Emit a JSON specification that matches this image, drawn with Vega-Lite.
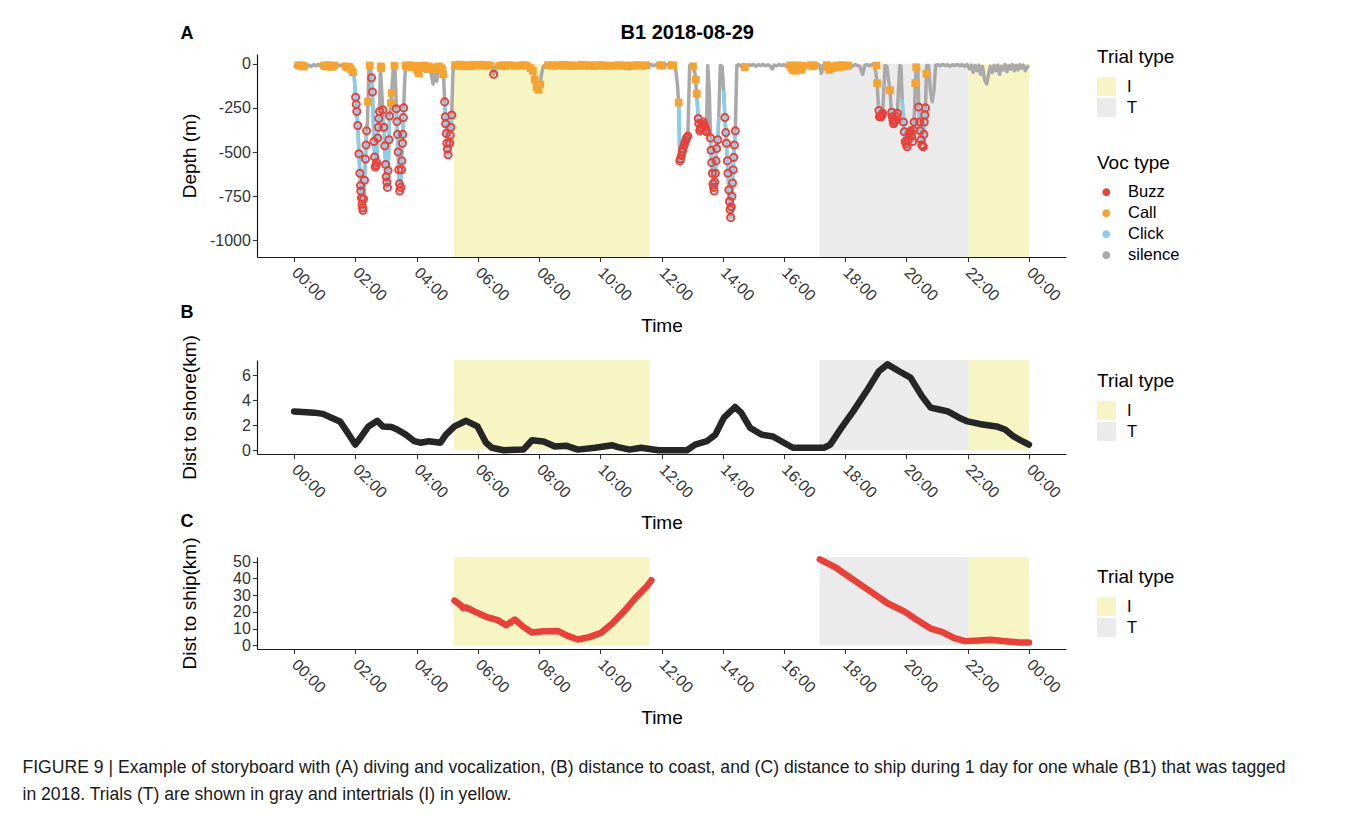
{
"$schema": "https://vega.github.io/schema/vega-lite/v6.json",
"background": "white",
"padding": {"left": 22, "top": 23, "right": 5, "bottom": 5},
"config": {
  "font": "Liberation Sans",
  "view": {"stroke": null},
  "axis": {"grid": false, "domainColor": "#1a1a1a", "domainWidth": 1.2, "tickColor": "#333333", "tickWidth": 1.1, "tickSize": 4.6, "labelFontSize": 16, "labelColor": "#333333", "labelPadding": 2, "titleFontSize": 19, "titleFontWeight": "normal", "titleColor": "#000000", "labelOverlap": false},
  "legend": {"titleFontSize": 19, "titleFontWeight": "normal", "titleColor": "#000000", "labelFontSize": 16.5, "labelColor": "#000000", "padding": 0, "orient": "none"}
},
"datasets": {
  "bands": [{"s": 5.21, "e": 11.61, "trial": "I"}, {"s": 17.16, "e": 22.03, "trial": "T"}, {"s": 22.03, "e": 24.0, "trial": "I"}],
  "prof": [
{"t":0,"d":-5},{"t":0.08,"d":-18},{"t":0.16,"d":-6},{"t":0.24,"d":-14},{"t":0.32,"d":-4},{"t":0.4,"d":-20},{"t":0.48,"d":-8},{"t":0.56,"d":-16},{"t":0.64,"d":-5},{"t":0.72,"d":-12},{"t":0.8,"d":-3},{"t":0.88,"d":-14},{"t":0.96,"d":-6},{"t":1.04,"d":-18},{"t":1.12,"d":-5},{"t":1.2,"d":-10},{"t":1.28,"d":-4},{"t":1.36,"d":-15},{"t":1.44,"d":-6},{"t":1.52,"d":-12},{"t":1.6,"d":-4},{"t":1.68,"d":-20},{"t":1.76,"d":-8},{"t":1.84,"d":-25},{"t":1.9,"d":-40},
{"t":1.96,"d":-60,"c":1},{"t":2.01,"d":-190,"c":1},{"t":2.05,"d":-270,"c":1},{"t":2.08,"d":-350,"c":1},{"t":2.13,"d":-550,"c":1},{"t":2.17,"d":-690,"c":1},{"t":2.21,"d":-780,"c":1},{"t":2.25,"d":-830,"c":1},{"t":2.29,"d":-700,"c":1},{"t":2.33,"d":-540,"c":1},{"t":2.37,"d":-380,"c":1},{"t":2.4,"d":-320},{"t":2.43,"d":-120},{"t":2.45,"d":-10},
{"t":2.48,"d":-8},{"t":2.52,"d":-60,"c":2},{"t":2.54,"d":-100,"c":2},{"t":2.56,"d":-160,"c":2},{"t":2.61,"d":-440,"c":2},{"t":2.63,"d":-530,"c":2},{"t":2.66,"d":-590,"c":2},{"t":2.7,"d":-560,"c":2},{"t":2.73,"d":-420,"c":2},{"t":2.76,"d":-330,"c":2},{"t":2.79,"d":-270,"c":2},{"t":2.82,"d":-15},
{"t":2.86,"d":-150},{"t":2.9,"d":-262,"c":3},{"t":2.93,"d":-360,"c":3},{"t":2.97,"d":-500,"c":3},{"t":3.01,"d":-640,"c":3},{"t":3.05,"d":-700,"c":3},{"t":3.08,"d":-560,"c":3},{"t":3.12,"d":-296,"c":3},{"t":3.18,"d":-180},{"t":3.25,"d":-10},
{"t":3.29,"d":-12},{"t":3.32,"d":-150},{"t":3.34,"d":-255,"c":4},{"t":3.38,"d":-400,"c":4},{"t":3.42,"d":-600,"c":4},{"t":3.45,"d":-720,"c":4},{"t":3.49,"d":-700,"c":4},{"t":3.52,"d":-550,"c":4},{"t":3.55,"d":-400,"c":4},{"t":3.58,"d":-250,"c":4},{"t":3.61,"d":-120},{"t":3.64,"d":-8},
{"t":3.7,"d":-20},{"t":3.76,"d":-5},{"t":3.82,"d":-25},{"t":3.88,"d":-8},{"t":3.94,"d":-40},{"t":4.0,"d":-10},{"t":4.06,"d":-30},{"t":4.12,"d":-5},{"t":4.18,"d":-20},{"t":4.24,"d":-8},{"t":4.3,"d":-45},{"t":4.36,"d":-15},{"t":4.42,"d":-10},{"t":4.48,"d":-60},{"t":4.54,"d":-115},{"t":4.58,"d":-60},{"t":4.62,"d":-20},{"t":4.66,"d":-100},{"t":4.7,"d":-30},{"t":4.76,"d":-10},{"t":4.82,"d":-20},
{"t":4.86,"d":-40},{"t":4.89,"d":-100},{"t":4.92,"d":-216,"c":5},{"t":4.95,"d":-340,"c":5},{"t":4.99,"d":-450,"c":5},{"t":5.03,"d":-515,"c":5},{"t":5.08,"d":-450,"c":5},{"t":5.12,"d":-360,"c":5},{"t":5.15,"d":-290,"c":5},{"t":5.17,"d":-150},{"t":5.2,"d":-10},
{"t":5.28,"d":-5},{"t":5.36,"d":-15},{"t":5.44,"d":-4},{"t":5.52,"d":-12},{"t":5.6,"d":-6},{"t":5.68,"d":-18},{"t":5.76,"d":-5},{"t":5.84,"d":-10},{"t":5.92,"d":-4},{"t":6.0,"d":-14},{"t":6.08,"d":-6},{"t":6.16,"d":-10},{"t":6.24,"d":-3},{"t":6.32,"d":-12},{"t":6.4,"d":-5},{"t":6.46,"d":-20},{"t":6.52,"d":-60},{"t":6.58,"d":-15},{"t":6.66,"d":-5},{"t":6.74,"d":-12},{"t":6.82,"d":-4},{"t":6.9,"d":-10},{"t":6.98,"d":-5},{"t":7.06,"d":-15},{"t":7.14,"d":-6},{"t":7.22,"d":-12},{"t":7.3,"d":-4},{"t":7.38,"d":-20},{"t":7.46,"d":-6},{"t":7.54,"d":-12},{"t":7.62,"d":-8},{"t":7.7,"d":-25},{"t":7.78,"d":-35},{"t":7.84,"d":-60},{"t":7.9,"d":-130},{"t":7.96,"d":-150},{"t":8.02,"d":-140},{"t":8.08,"d":-60},{"t":8.14,"d":-15},{"t":8.22,"d":-5},{"t":8.3,"d":-12},{"t":8.38,"d":-4},{"t":8.46,"d":-10},{"t":8.54,"d":-6},{"t":8.62,"d":-15},{"t":8.7,"d":-5},{"t":8.78,"d":-12},{"t":8.86,"d":-4},{"t":8.94,"d":-10},{"t":9.02,"d":-5},{"t":9.1,"d":-14},{"t":9.18,"d":-6},{"t":9.26,"d":-10},{"t":9.34,"d":-4},{"t":9.42,"d":-12},{"t":9.5,"d":-5},{"t":9.58,"d":-15},{"t":9.66,"d":-6},{"t":9.74,"d":-10},{"t":9.82,"d":-4},{"t":9.9,"d":-12},{"t":9.98,"d":-5},{"t":10.06,"d":-14},{"t":10.14,"d":-6},{"t":10.22,"d":-10},{"t":10.3,"d":-4},{"t":10.38,"d":-12},{"t":10.46,"d":-5},{"t":10.54,"d":-15},{"t":10.62,"d":-6},{"t":10.7,"d":-10},{"t":10.78,"d":-4},{"t":10.86,"d":-12},{"t":10.94,"d":-30},{"t":11.02,"d":-8},{"t":11.1,"d":-12},{"t":11.18,"d":-4},{"t":11.26,"d":-10},{"t":11.34,"d":-5},{"t":11.42,"d":-14},{"t":11.5,"d":-6},{"t":11.58,"d":-10},{"t":11.66,"d":-4},{"t":11.74,"d":-12},{"t":11.82,"d":-5},{"t":11.9,"d":-15},{"t":11.98,"d":-6},{"t":12.06,"d":-10},{"t":12.14,"d":-4},{"t":12.22,"d":-12},{"t":12.3,"d":-5},{"t":12.38,"d":-10},{"t":12.45,"d":-10},
{"t":12.52,"d":-120},{"t":12.56,"d":-220,"c":6},{"t":12.6,"d":-550,"c":6},{"t":12.65,"d":-520,"c":6},{"t":12.7,"d":-480,"c":6},{"t":12.76,"d":-450,"c":6},{"t":12.82,"d":-420,"c":6},{"t":12.86,"d":-410,"c":6},{"t":12.92,"d":-10},
{"t":12.97,"d":-5},{"t":13.03,"d":-15},{"t":13.1,"d":-60},{"t":13.16,"d":-200,"c":7},{"t":13.2,"d":-310,"c":7},{"t":13.25,"d":-380,"c":7},{"t":13.3,"d":-360,"c":7},{"t":13.36,"d":-330,"c":7},{"t":13.42,"d":-360,"c":7},{"t":13.47,"d":-385,"c":7},{"t":13.51,"d":-10},
{"t":13.56,"d":-150},{"t":13.6,"d":-420,"c":8},{"t":13.64,"d":-560,"c":8},{"t":13.68,"d":-680,"c":8},{"t":13.72,"d":-720,"c":8},{"t":13.76,"d":-620,"c":8},{"t":13.8,"d":-480,"c":8},{"t":13.84,"d":-430,"c":8},{"t":13.87,"d":-300,"c":8},{"t":13.92,"d":-10},
{"t":13.98,"d":-15},{"t":14.03,"d":-150,"c":9},{"t":14.07,"d":-305,"c":9},{"t":14.12,"d":-450,"c":9},{"t":14.17,"d":-620,"c":9},{"t":14.22,"d":-780,"c":9},{"t":14.26,"d":-870,"c":9},{"t":14.3,"d":-750,"c":9},{"t":14.34,"d":-600,"c":9},{"t":14.38,"d":-460,"c":9},{"t":14.41,"d":-380,"c":9},{"t":14.46,"d":-10},
{"t":14.52,"d":-5},{"t":14.6,"d":-15},{"t":14.68,"d":-4},{"t":14.76,"d":-12},{"t":14.84,"d":-6},{"t":14.92,"d":-10},{"t":15.0,"d":-4},{"t":15.08,"d":-14},{"t":15.16,"d":-5},{"t":15.24,"d":-10},{"t":15.32,"d":-4},{"t":15.4,"d":-12},{"t":15.48,"d":-6},{"t":15.56,"d":-15},{"t":15.62,"d":-30},{"t":15.68,"d":-8},{"t":15.76,"d":-12},{"t":15.84,"d":-4},{"t":15.92,"d":-10},{"t":16.0,"d":-5},{"t":16.08,"d":-14},{"t":16.16,"d":-6},{"t":16.24,"d":-10},{"t":16.32,"d":-4},{"t":16.4,"d":-12},{"t":16.48,"d":-5},{"t":16.56,"d":-15},{"t":16.64,"d":-6},{"t":16.72,"d":-10},{"t":16.8,"d":-4},{"t":16.88,"d":-12},{"t":16.96,"d":-6},{"t":17.04,"d":-15},{"t":17.12,"d":-5},{"t":17.18,"d":-10},{"t":17.22,"d":-55},{"t":17.28,"d":-10},{"t":17.36,"d":-4},{"t":17.44,"d":-12},{"t":17.52,"d":-5},{"t":17.6,"d":-14},{"t":17.68,"d":-6},{"t":17.76,"d":-10},{"t":17.84,"d":-4},{"t":17.92,"d":-12},{"t":18.0,"d":-5},{"t":18.08,"d":-10},{"t":18.16,"d":-6},{"t":18.24,"d":-14},{"t":18.32,"d":-5},{"t":18.4,"d":-10},{"t":18.48,"d":-15},{"t":18.57,"d":-60},{"t":18.64,"d":-10},{"t":18.72,"d":-5},{"t":18.8,"d":-12},{"t":18.88,"d":-4},{"t":18.95,"d":-8},
{"t":19.0,"d":-50},{"t":19.04,"d":-110},{"t":19.08,"d":-230,"c":10},{"t":19.12,"d":-300,"c":10},{"t":19.17,"d":-300,"c":10},{"t":19.22,"d":-280,"c":10},{"t":19.26,"d":-150},{"t":19.3,"d":-10},
{"t":19.36,"d":-15},{"t":19.42,"d":-100},{"t":19.46,"d":-150},{"t":19.5,"d":-250,"c":11},{"t":19.54,"d":-300,"c":11},{"t":19.58,"d":-340,"c":11},{"t":19.64,"d":-320,"c":11},{"t":19.7,"d":-280,"c":11},{"t":19.74,"d":-150},{"t":19.78,"d":-10},
{"t":19.82,"d":-15},{"t":19.86,"d":-200,"c":12},{"t":19.9,"d":-330,"c":12},{"t":19.96,"d":-440,"c":12},{"t":20.02,"d":-470,"c":12},{"t":20.08,"d":-400,"c":12},{"t":20.14,"d":-380,"c":12},{"t":20.2,"d":-440,"c":12},{"t":20.25,"d":-330,"c":12},{"t":20.29,"d":-110},{"t":20.33,"d":-10},
{"t":20.37,"d":-15},{"t":20.4,"d":-245,"c":13},{"t":20.45,"d":-380,"c":13},{"t":20.5,"d":-460,"c":13},{"t":20.55,"d":-470,"c":13},{"t":20.58,"d":-330,"c":13},{"t":20.62,"d":-250,"c":13},{"t":20.66,"d":-10},
{"t":20.72,"d":-10},{"t":20.78,"d":-150},{"t":20.84,"d":-215},{"t":20.9,"d":-150},{"t":20.95,"d":-10},
{"t":21.02,"d":-5},{"t":21.1,"d":-12},{"t":21.18,"d":-4},{"t":21.26,"d":-10},{"t":21.34,"d":-5},{"t":21.42,"d":-14},{"t":21.5,"d":-6},{"t":21.58,"d":-10},{"t":21.66,"d":-4},{"t":21.74,"d":-12},{"t":21.82,"d":-5},{"t":21.9,"d":-15},{"t":21.98,"d":-4},{"t":22.06,"d":-30},{"t":22.12,"d":-8},{"t":22.18,"d":-50},{"t":22.24,"d":-10},{"t":22.3,"d":-40},{"t":22.36,"d":-8},{"t":22.42,"d":-60},{"t":22.48,"d":-15},{"t":22.55,"d":-90},{"t":22.62,"d":-115},{"t":22.68,"d":-60},{"t":22.74,"d":-15},{"t":22.8,"d":-50},{"t":22.86,"d":-10},{"t":22.92,"d":-40},{"t":22.98,"d":-8},{"t":23.04,"d":-60},{"t":23.1,"d":-15},{"t":23.16,"d":-35},{"t":23.22,"d":-5},{"t":23.28,"d":-45},{"t":23.34,"d":-10},{"t":23.4,"d":-30},{"t":23.46,"d":-5},{"t":23.52,"d":-40},{"t":23.58,"d":-10},{"t":23.64,"d":-35},{"t":23.7,"d":-5},{"t":23.76,"d":-25},{"t":23.82,"d":-8},{"t":23.88,"d":-40},{"t":23.94,"d":-20},{"t":24.0,"d":-10}
  ],
  "voc": [
{"t":0.14,"d":-8,"v":"Call"},{"t":0.2,"d":-12,"v":"Call"},{"t":0.28,"d":-10,"v":"Call"},{"t":0.32,"d":-16,"v":"Call"},{"t":0.98,"d":-10,"v":"Call"},{"t":1.04,"d":-16,"v":"Call"},{"t":1.1,"d":-8,"v":"Call"},{"t":1.18,"d":-12,"v":"Call"},{"t":1.24,"d":-18,"v":"Call"},{"t":1.32,"d":-10,"v":"Call"},{"t":1.68,"d":-15,"v":"Call"},{"t":1.74,"d":-22,"v":"Call"},{"t":1.8,"d":-18,"v":"Call"},{"t":1.86,"d":-32,"v":"Call"},{"t":1.92,"d":-48,"v":"Call"},{"t":2.415,"d":-215,"v":"Call"},{"t":2.47,"d":-10,"v":"Call"},{"t":2.83,"d":-15,"v":"Call"},{"t":2.85,"d":-25,"v":"Call"},{"t":3.16,"d":-222,"v":"Call"},{"t":3.19,"d":-165,"v":"Call"},{"t":3.28,"d":-12,"v":"Call"},{"t":3.64,"d":-10,"v":"Call"},{"t":3.68,"d":-15,"v":"Call"},{"t":3.72,"d":-12,"v":"Call"},{"t":3.78,"d":-8,"v":"Call"},{"t":3.84,"d":-20,"v":"Call"},{"t":3.98,"d":-12,"v":"Call"},{"t":4.02,"d":-30,"v":"Call"},{"t":4.05,"d":-45,"v":"Call"},{"t":4.08,"d":-55,"v":"Call"},{"t":4.12,"d":-20,"v":"Call"},{"t":4.2,"d":-15,"v":"Call"},{"t":4.26,"d":-10,"v":"Call"},{"t":4.34,"d":-25,"v":"Call"},{"t":4.4,"d":-15,"v":"Call"},{"t":4.46,"d":-30,"v":"Call"},{"t":4.62,"d":-20,"v":"Call"},{"t":4.7,"d":-30,"v":"Call"},{"t":4.74,"d":-15,"v":"Call"},{"t":4.8,"d":-25,"v":"Call"},{"t":4.84,"d":-35,"v":"Call"},{"t":4.87,"d":-60,"v":"Call"},{"t":5.26,"d":-8,"v":"Call"},{"t":5.34,"d":-12,"v":"Call"},{"t":5.4,"d":-5,"v":"Call"},{"t":5.46,"d":-10,"v":"Call"},{"t":5.54,"d":-14,"v":"Call"},{"t":5.62,"d":-8,"v":"Call"},{"t":5.7,"d":-12,"v":"Call"},{"t":5.78,"d":-14,"v":"Call"},{"t":5.86,"d":-6,"v":"Call"},{"t":5.94,"d":-12,"v":"Call"},{"t":6.02,"d":-8,"v":"Call"},{"t":6.1,"d":-5,"v":"Call"},{"t":6.2,"d":-12,"v":"Call"},{"t":6.3,"d":-8,"v":"Call"},{"t":6.4,"d":-10,"v":"Call"},{"t":6.7,"d":-12,"v":"Call"},{"t":6.8,"d":-8,"v":"Call"},{"t":6.9,"d":-14,"v":"Call"},{"t":7.0,"d":-8,"v":"Call"},{"t":7.1,"d":-10,"v":"Call"},{"t":7.26,"d":-12,"v":"Call"},{"t":7.4,"d":-10,"v":"Call"},{"t":7.5,"d":-8,"v":"Call"},{"t":7.6,"d":-12,"v":"Call"},{"t":7.72,"d":-25,"v":"Call"},{"t":7.8,"d":-40,"v":"Call"},{"t":7.86,"d":-90,"v":"Call"},{"t":7.92,"d":-132,"v":"Call"},{"t":7.98,"d":-148,"v":"Call"},{"t":8.04,"d":-118,"v":"Call"},{"t":8.3,"d":-8,"v":"Call"},{"t":8.4,"d":-10,"v":"Call"},{"t":8.5,"d":-12,"v":"Call"},{"t":8.6,"d":-8,"v":"Call"},{"t":8.7,"d":-10,"v":"Call"},{"t":8.8,"d":-6,"v":"Call"},{"t":8.9,"d":-12,"v":"Call"},{"t":9.0,"d":-8,"v":"Call"},{"t":9.1,"d":-12,"v":"Call"},{"t":9.2,"d":-10,"v":"Call"},{"t":9.3,"d":-12,"v":"Call"},{"t":9.4,"d":-6,"v":"Call"},{"t":9.5,"d":-10,"v":"Call"},{"t":9.6,"d":-12,"v":"Call"},{"t":9.7,"d":-8,"v":"Call"},{"t":9.8,"d":-14,"v":"Call"},{"t":9.9,"d":-10,"v":"Call"},{"t":10.0,"d":-8,"v":"Call"},{"t":10.1,"d":-12,"v":"Call"},{"t":10.2,"d":-10,"v":"Call"},{"t":10.3,"d":-12,"v":"Call"},{"t":10.5,"d":-10,"v":"Call"},{"t":10.6,"d":-8,"v":"Call"},{"t":10.7,"d":-12,"v":"Call"},{"t":10.8,"d":-10,"v":"Call"},{"t":10.9,"d":-14,"v":"Call"},{"t":11.0,"d":-10,"v":"Call"},{"t":11.1,"d":-12,"v":"Call"},{"t":11.2,"d":-8,"v":"Call"},{"t":11.3,"d":-10,"v":"Call"},{"t":11.4,"d":-12,"v":"Call"},{"t":11.5,"d":-8,"v":"Call"},{"t":11.96,"d":-8,"v":"Call"},{"t":12.02,"d":-10,"v":"Call"},{"t":12.32,"d":-8,"v":"Call"},{"t":12.38,"d":-10,"v":"Call"},{"t":12.56,"d":-220,"v":"Call"},{"t":13.03,"d":-15,"v":"Call"},{"t":13.12,"d":-90,"v":"Call"},{"t":13.15,"d":-170,"v":"Call"},{"t":14.72,"d":-20,"v":"Call"},{"t":16.2,"d":-10,"v":"Call"},{"t":16.24,"d":-22,"v":"Call"},{"t":16.28,"d":-35,"v":"Call"},{"t":16.31,"d":-10,"v":"Call"},{"t":16.34,"d":-25,"v":"Call"},{"t":16.38,"d":-40,"v":"Call"},{"t":16.42,"d":-15,"v":"Call"},{"t":16.46,"d":-30,"v":"Call"},{"t":16.5,"d":-10,"v":"Call"},{"t":16.54,"d":-22,"v":"Call"},{"t":16.58,"d":-35,"v":"Call"},{"t":16.62,"d":-12,"v":"Call"},{"t":16.88,"d":-8,"v":"Call"},{"t":16.94,"d":-15,"v":"Call"},{"t":17.0,"d":-10,"v":"Call"},{"t":17.4,"d":-8,"v":"Call"},{"t":17.44,"d":-20,"v":"Call"},{"t":17.48,"d":-35,"v":"Call"},{"t":17.52,"d":-15,"v":"Call"},{"t":17.56,"d":-25,"v":"Call"},{"t":17.72,"d":-10,"v":"Call"},{"t":17.8,"d":-20,"v":"Call"},{"t":17.88,"d":-8,"v":"Call"},{"t":17.96,"d":-15,"v":"Call"},{"t":18.04,"d":-10,"v":"Call"},{"t":18.1,"d":-12,"v":"Call"},{"t":19.02,"d":-10,"v":"Call"},{"t":19.04,"d":-110,"v":"Call"},{"t":19.46,"d":-150,"v":"Call"},{"t":20.29,"d":-110,"v":"Call"},{"t":20.32,"d":-20,"v":"Call"},{"t":20.65,"d":-57,"v":"Call"},
{"t":2.01,"d":-190,"v":"Buzz"},{"t":2.03,"d":-230,"v":"Buzz"},{"t":2.05,"d":-270,"v":"Buzz"},{"t":2.08,"d":-350,"v":"Buzz"},{"t":2.12,"d":-510,"v":"Buzz"},{"t":2.15,"d":-620,"v":"Buzz"},{"t":2.17,"d":-690,"v":"Buzz"},{"t":2.18,"d":-720,"v":"Buzz"},{"t":2.2,"d":-760,"v":"Buzz"},{"t":2.22,"d":-795,"v":"Buzz"},{"t":2.24,"d":-815,"v":"Buzz"},{"t":2.25,"d":-830,"v":"Buzz"},{"t":2.27,"d":-765,"v":"Buzz"},{"t":2.3,"d":-660,"v":"Buzz"},{"t":2.33,"d":-540,"v":"Buzz"},{"t":2.35,"d":-460,"v":"Buzz"},{"t":2.37,"d":-380,"v":"Buzz"},
{"t":2.53,"d":-80,"v":"Buzz"},{"t":2.56,"d":-160,"v":"Buzz"},{"t":2.61,"d":-440,"v":"Buzz"},{"t":2.63,"d":-528,"v":"Buzz"},{"t":2.65,"d":-585,"v":"Buzz"},{"t":2.68,"d":-575,"v":"Buzz"},{"t":2.7,"d":-560,"v":"Buzz"},{"t":2.73,"d":-420,"v":"Buzz"},{"t":2.75,"d":-360,"v":"Buzz"},{"t":2.77,"d":-310,"v":"Buzz"},{"t":2.79,"d":-270,"v":"Buzz"},
{"t":2.9,"d":-262,"v":"Buzz"},{"t":2.93,"d":-360,"v":"Buzz"},{"t":2.96,"d":-465,"v":"Buzz"},{"t":2.99,"d":-570,"v":"Buzz"},{"t":3.01,"d":-640,"v":"Buzz"},{"t":3.03,"d":-670,"v":"Buzz"},{"t":3.05,"d":-700,"v":"Buzz"},{"t":3.07,"d":-605,"v":"Buzz"},{"t":3.1,"d":-430,"v":"Buzz"},{"t":3.12,"d":-296,"v":"Buzz"},
{"t":3.34,"d":-255,"v":"Buzz"},{"t":3.36,"d":-328,"v":"Buzz"},{"t":3.38,"d":-400,"v":"Buzz"},{"t":3.4,"d":-500,"v":"Buzz"},{"t":3.42,"d":-600,"v":"Buzz"},{"t":3.44,"d":-680,"v":"Buzz"},{"t":3.45,"d":-720,"v":"Buzz"},{"t":3.49,"d":-700,"v":"Buzz"},{"t":3.51,"d":-600,"v":"Buzz"},{"t":3.52,"d":-550,"v":"Buzz"},{"t":3.54,"d":-450,"v":"Buzz"},{"t":3.55,"d":-400,"v":"Buzz"},{"t":3.57,"d":-305,"v":"Buzz"},{"t":3.58,"d":-250,"v":"Buzz"},
{"t":4.92,"d":-216,"v":"Buzz"},{"t":4.94,"d":-300,"v":"Buzz"},{"t":4.95,"d":-340,"v":"Buzz"},{"t":4.97,"d":-395,"v":"Buzz"},{"t":4.99,"d":-450,"v":"Buzz"},{"t":5.01,"d":-483,"v":"Buzz"},{"t":5.03,"d":-515,"v":"Buzz"},{"t":5.08,"d":-450,"v":"Buzz"},{"t":5.1,"d":-405,"v":"Buzz"},{"t":5.12,"d":-360,"v":"Buzz"},{"t":5.15,"d":-290,"v":"Buzz"},
{"t":6.52,"d":-60,"v":"Buzz"},
{"t":12.6,"d":-550,"v":"Buzz"},{"t":12.62,"d":-538,"v":"Buzz"},{"t":12.65,"d":-520,"v":"Buzz"},{"t":12.68,"d":-496,"v":"Buzz"},{"t":12.7,"d":-480,"v":"Buzz"},{"t":12.73,"d":-465,"v":"Buzz"},{"t":12.76,"d":-450,"v":"Buzz"},{"t":12.79,"d":-435,"v":"Buzz"},{"t":12.82,"d":-420,"v":"Buzz"},{"t":12.86,"d":-410,"v":"Buzz"},
{"t":13.2,"d":-310,"v":"Buzz"},{"t":13.22,"d":-338,"v":"Buzz"},{"t":13.25,"d":-380,"v":"Buzz"},{"t":13.28,"d":-368,"v":"Buzz"},{"t":13.3,"d":-360,"v":"Buzz"},{"t":13.33,"d":-345,"v":"Buzz"},{"t":13.36,"d":-330,"v":"Buzz"},{"t":13.39,"d":-345,"v":"Buzz"},{"t":13.42,"d":-360,"v":"Buzz"},{"t":13.45,"d":-375,"v":"Buzz"},{"t":13.47,"d":-385,"v":"Buzz"},
{"t":13.6,"d":-420,"v":"Buzz"},{"t":13.62,"d":-490,"v":"Buzz"},{"t":13.64,"d":-560,"v":"Buzz"},{"t":13.66,"d":-620,"v":"Buzz"},{"t":13.68,"d":-680,"v":"Buzz"},{"t":13.7,"d":-700,"v":"Buzz"},{"t":13.72,"d":-720,"v":"Buzz"},{"t":13.74,"d":-670,"v":"Buzz"},{"t":13.76,"d":-620,"v":"Buzz"},{"t":13.78,"d":-550,"v":"Buzz"},{"t":13.8,"d":-480,"v":"Buzz"},{"t":13.84,"d":-430,"v":"Buzz"},
{"t":14.07,"d":-305,"v":"Buzz"},{"t":14.1,"d":-390,"v":"Buzz"},{"t":14.12,"d":-450,"v":"Buzz"},{"t":14.15,"d":-550,"v":"Buzz"},{"t":14.17,"d":-620,"v":"Buzz"},{"t":14.2,"d":-715,"v":"Buzz"},{"t":14.22,"d":-780,"v":"Buzz"},{"t":14.24,"d":-825,"v":"Buzz"},{"t":14.26,"d":-870,"v":"Buzz"},{"t":14.28,"d":-810,"v":"Buzz"},{"t":14.3,"d":-750,"v":"Buzz"},{"t":14.32,"d":-675,"v":"Buzz"},{"t":14.34,"d":-600,"v":"Buzz"},{"t":14.36,"d":-530,"v":"Buzz"},{"t":14.38,"d":-460,"v":"Buzz"},{"t":14.41,"d":-380,"v":"Buzz"},
{"t":19.1,"d":-265,"v":"Buzz"},{"t":19.12,"d":-300,"v":"Buzz"},{"t":19.15,"d":-300,"v":"Buzz"},{"t":19.17,"d":-300,"v":"Buzz"},{"t":19.2,"d":-290,"v":"Buzz"},{"t":19.22,"d":-280,"v":"Buzz"},
{"t":19.52,"d":-275,"v":"Buzz"},{"t":19.54,"d":-300,"v":"Buzz"},{"t":19.56,"d":-320,"v":"Buzz"},{"t":19.58,"d":-340,"v":"Buzz"},{"t":19.61,"d":-330,"v":"Buzz"},{"t":19.64,"d":-320,"v":"Buzz"},{"t":19.67,"d":-300,"v":"Buzz"},{"t":19.7,"d":-280,"v":"Buzz"},
{"t":19.9,"d":-330,"v":"Buzz"},{"t":19.93,"d":-385,"v":"Buzz"},{"t":19.96,"d":-440,"v":"Buzz"},{"t":19.99,"d":-455,"v":"Buzz"},{"t":20.02,"d":-470,"v":"Buzz"},{"t":20.05,"d":-435,"v":"Buzz"},{"t":20.08,"d":-400,"v":"Buzz"},{"t":20.11,"d":-390,"v":"Buzz"},{"t":20.14,"d":-380,"v":"Buzz"},{"t":20.17,"d":-410,"v":"Buzz"},{"t":20.2,"d":-440,"v":"Buzz"},{"t":20.23,"d":-375,"v":"Buzz"},{"t":20.25,"d":-330,"v":"Buzz"},
{"t":20.4,"d":-245,"v":"Buzz"},{"t":20.43,"d":-330,"v":"Buzz"},{"t":20.45,"d":-380,"v":"Buzz"},{"t":20.48,"d":-430,"v":"Buzz"},{"t":20.5,"d":-460,"v":"Buzz"},{"t":20.53,"d":-465,"v":"Buzz"},{"t":20.55,"d":-470,"v":"Buzz"},{"t":20.57,"d":-400,"v":"Buzz"},{"t":20.58,"d":-330,"v":"Buzz"},{"t":20.6,"d":-290,"v":"Buzz"},{"t":20.62,"d":-250,"v":"Buzz"}
  ],
  "shore": [
{"t":0,"km":3.1},{"t":0.28,"km":3.05},{"t":0.66,"km":3.0},{"t":0.94,"km":2.9},{"t":1.22,"km":2.6},{"t":1.5,"km":2.3},{"t":1.75,"km":1.4},{"t":2.0,"km":0.45},{"t":2.2,"km":1.1},{"t":2.43,"km":1.9},{"t":2.72,"km":2.35},{"t":2.9,"km":1.9},{"t":3.18,"km":1.85},{"t":3.37,"km":1.65},{"t":3.65,"km":1.25},{"t":3.93,"km":0.72},{"t":4.12,"km":0.6},{"t":4.4,"km":0.72},{"t":4.78,"km":0.6},{"t":4.96,"km":1.25},{"t":5.24,"km":1.9},{"t":5.62,"km":2.35},{"t":5.99,"km":1.9},{"t":6.27,"km":0.6},{"t":6.46,"km":0.2},{"t":6.84,"km":0.0},{"t":7.49,"km":0.05},{"t":7.77,"km":0.8},{"t":8.15,"km":0.7},{"t":8.52,"km":0.3},{"t":8.9,"km":0.35},{"t":9.27,"km":0.05},{"t":9.83,"km":0.2},{"t":10.39,"km":0.4},{"t":10.58,"km":0.25},{"t":10.96,"km":0.05},{"t":11.33,"km":0.2},{"t":11.9,"km":0.0},{"t":12.83,"km":0.0},{"t":13.1,"km":0.45},{"t":13.48,"km":0.72},{"t":13.76,"km":1.25},{"t":14.04,"km":2.6},{"t":14.4,"km":3.45},{"t":14.6,"km":3.0},{"t":14.89,"km":1.8},{"t":15.26,"km":1.25},{"t":15.64,"km":1.1},{"t":16.0,"km":0.6},{"t":16.29,"km":0.2},{"t":16.57,"km":0.2},{"t":17.32,"km":0.2},{"t":17.51,"km":0.45},{"t":17.88,"km":1.8},{"t":18.26,"km":3.1},{"t":18.73,"km":4.85},{"t":19.1,"km":6.3},{"t":19.38,"km":6.85},{"t":19.76,"km":6.3},{"t":20.13,"km":5.8},{"t":20.51,"km":4.3},{"t":20.79,"km":3.4},{"t":21.07,"km":3.25},{"t":21.35,"km":3.1},{"t":21.72,"km":2.6},{"t":22.0,"km":2.3},{"t":22.38,"km":2.1},{"t":22.94,"km":1.9},{"t":23.22,"km":1.65},{"t":23.5,"km":1.1},{"t":23.78,"km":0.72},{"t":24.0,"km":0.45}
  ],
  "ship": [
{"t":5.24,"km":26.8,"seg":1},{"t":5.43,"km":24.2,"seg":1},{"t":5.52,"km":22.2,"seg":1},{"t":5.62,"km":22.8,"seg":1},{"t":5.9,"km":20.2,"seg":1},{"t":6.27,"km":17.1,"seg":1},{"t":6.65,"km":15.1,"seg":1},{"t":6.93,"km":12.1,"seg":1},{"t":7.21,"km":15.5,"seg":1},{"t":7.49,"km":11.1,"seg":1},{"t":7.77,"km":7.7,"seg":1},{"t":8.15,"km":8.5,"seg":1},{"t":8.61,"km":8.7,"seg":1},{"t":8.9,"km":6.0,"seg":1},{"t":9.27,"km":3.6,"seg":1},{"t":9.64,"km":5.0,"seg":1},{"t":10.02,"km":7.5,"seg":1},{"t":10.39,"km":13.1,"seg":1},{"t":10.77,"km":20.2,"seg":1},{"t":11.14,"km":28.2,"seg":1},{"t":11.52,"km":35.3,"seg":1},{"t":11.67,"km":38.9,"seg":1},
{"t":17.17,"km":51.4,"seg":2},{"t":17.7,"km":46.4,"seg":2},{"t":18.26,"km":39.3,"seg":2},{"t":18.82,"km":32.3,"seg":2},{"t":19.38,"km":25.2,"seg":2},{"t":19.94,"km":20.2,"seg":2},{"t":20.32,"km":15.5,"seg":2},{"t":20.79,"km":10.1,"seg":2},{"t":21.16,"km":8.1,"seg":2},{"t":21.54,"km":4.6,"seg":2},{"t":21.91,"km":2.6,"seg":2},{"t":22.38,"km":3.0,"seg":2},{"t":22.75,"km":3.4,"seg":2},{"t":23.31,"km":2.4,"seg":2},{"t":23.69,"km":1.8,"seg":2},{"t":24.0,"km":1.8,"seg":2}
  ]
},
"title": {"text": ["FIGURE 9 | Example of storyboard with (A) diving and vocalization, (B) distance to coast, and (C) distance to ship during 1 day for one whale (B1) that was tagged", "in 2018. Trials (T) are shown in gray and intertrials (I) in yellow."], "orient": "bottom", "anchor": "start", "fontSize": 17.6, "fontWeight": "normal", "lineHeight": 27, "color": "#1a1a1a", "dx": -158, "offset": 31},
"resolve": {"scale": {"x": "independent", "y": "independent", "fill": "independent", "color": "independent"}, "legend": {"fill": "independent", "color": "independent"}},
"vconcat": [
 {
  "title": {"text": "B1  2018-08-29", "anchor": "middle", "fontSize": 20, "fontWeight": "bold", "color": "#000000", "dy": 18, "dx": 7, "offset": 0},
  "bounds": "flush",
  "spacing": 103,
  "resolve": {"scale": {"x": "independent", "y": "independent", "fill": "independent", "color": "independent"}, "legend": {"fill": "independent", "color": "independent"}},
  "vconcat": [
   {
    "width": 809, "height": 203,
    "title": {"text": "A", "anchor": "start", "fontSize": 18, "fontWeight": "bold", "color": "#000000", "offset": 5},
    "layer": [
     {"data": {"name": "bands"}, "mark": {"type": "rect"},
      "encoding": {
       "x": {"field": "s", "type": "quantitative", "scale": {"domain": [-1.21, 25.21], "nice": false, "zero": false},
             "axis": {"title": "Time", "values": [0,2,4,6,8,10,12,14,16,18,20,22,24], "tickCount": 30, "labelExpr": "(datum.value % 24 < 10 ? '0' : '') + (datum.value % 24) + ':00'", "labelAngle": 45, "labelAlign": "left", "labelBaseline": "middle", "labelPadding": 8, "titlePadding": 13, "labelOverlap": false, "labelFlush": false}},
       "x2": {"field": "e"},
       "y": {"datum": 0, "type": "quantitative", "scale": {"domain": [-1094, 55], "nice": false, "zero": false},
             "axis": {"title": "Depth (m)", "values": [0,-250,-500,-750,-1000], "tickCount": 20, "labelExpr": "'' + datum.value", "titlePadding": 10, "labelOverlap": false}},
       "y2": {"value": "height"},
       "fill": {"field": "trial", "type": "nominal", "scale": {"domain": ["I","T"], "range": ["#F7F5C4","#EBEBEB"]},
                "legend": {"title": "Trial type", "legendX": 840, "legendY": -6, "symbolType": "square", "symbolSize": 361, "symbolStrokeWidth": 0, "rowPadding": 2, "labelOffset": 11, "titlePadding": 10}}
      }},
     {"data": {"name": "prof"}, "mark": {"type": "line", "color": "#A9A9A9", "strokeWidth": 3.5, "strokeJoin": "round"},
      "encoding": {"x": {"field": "t", "type": "quantitative"}, "y": {"field": "d", "type": "quantitative"}}},
     {"data": {"name": "prof"}, "transform": [{"filter": "datum.c > 0"}], "mark": {"type": "line", "color": "#87CEEB", "strokeWidth": 3.5, "strokeJoin": "round"},
      "encoding": {"x": {"field": "t", "type": "quantitative"}, "y": {"field": "d", "type": "quantitative"}, "detail": {"field": "c", "type": "nominal"}}},
     {"data": {"name": "voc"}, "transform": [{"filter": "datum.v == 'Call'"}], "mark": {"type": "square", "filled": true, "size": 60, "opacity": 1},
      "encoding": {"x": {"field": "t", "type": "quantitative"}, "y": {"field": "d", "type": "quantitative"},
        "color": {"field": "v", "type": "nominal", "scale": {"domain": ["Buzz","Call","Click","silence"], "range": ["#E8413A","#F5A331","#87CEEB","#A9A9A9"]},
                  "legend": {"title": "Voc type", "legendX": 840, "legendY": 100, "symbolType": "circle", "symbolSize": 40, "symbolOffset": 1, "labelOffset": 13.5, "rowPadding": 4, "titlePadding": 11}}}},
     {"data": {"name": "voc"}, "transform": [{"filter": "datum.v == 'Buzz'"}], "mark": {"type": "point", "shape": "circle", "filled": false, "size": 50, "strokeWidth": 2, "opacity": 1},
      "encoding": {"x": {"field": "t", "type": "quantitative"}, "y": {"field": "d", "type": "quantitative"}, "color": {"field": "v", "type": "nominal"}}}
    ]
   },
   {
    "width": 809, "height": 94,
    "title": {"text": "B", "anchor": "start", "fontSize": 18, "fontWeight": "bold", "color": "#000000", "offset": 13},
    "layer": [
     {"data": {"name": "bands"}, "mark": {"type": "rect"},
      "encoding": {
       "x": {"field": "s", "type": "quantitative", "scale": {"domain": [-1.21, 25.21], "nice": false, "zero": false},
             "axis": {"title": "Time", "values": [0,2,4,6,8,10,12,14,16,18,20,22,24], "tickCount": 30, "labelExpr": "(datum.value % 24 < 10 ? '0' : '') + (datum.value % 24) + ':00'", "labelAngle": 45, "labelAlign": "left", "labelBaseline": "middle", "labelPadding": 8, "titlePadding": 13, "labelOverlap": false, "labelFlush": false}},
       "x2": {"field": "e"},
       "y": {"datum": 0, "type": "quantitative", "scale": {"domain": [-0.3, 7.2], "nice": false, "zero": false},
             "axis": {"title": "Dist to shore(km)", "values": [0,2,4,6], "tickCount": 20, "labelExpr": "'' + datum.value", "titlePadding": 42, "labelOverlap": false}},
       "y2": {"value": 0},
       "fill": {"field": "trial", "type": "nominal", "scale": {"domain": ["I","T"], "range": ["#F7F5C4","#EBEBEB"]},
                "legend": {"title": "Trial type", "legendX": 840, "legendY": 12, "symbolType": "square", "symbolSize": 361, "symbolStrokeWidth": 0, "rowPadding": 2, "labelOffset": 11, "titlePadding": 10}}
      }},
     {"data": {"name": "shore"}, "mark": {"type": "line", "color": "#262626", "strokeWidth": 6.5, "strokeCap": "round", "strokeJoin": "round"},
      "encoding": {"x": {"field": "t", "type": "quantitative"}, "y": {"field": "km", "type": "quantitative"}}}
    ]
   },
   {
    "width": 809, "height": 92,
    "title": {"text": "C", "anchor": "start", "fontSize": 18, "fontWeight": "bold", "color": "#000000", "offset": 6},
    "layer": [
     {"data": {"name": "bands"}, "mark": {"type": "rect"},
      "encoding": {
       "x": {"field": "s", "type": "quantitative", "scale": {"domain": [-1.21, 25.21], "nice": false, "zero": false},
             "axis": {"title": "Time", "values": [0,2,4,6,8,10,12,14,16,18,20,22,24], "tickCount": 30, "labelExpr": "(datum.value % 24 < 10 ? '0' : '') + (datum.value % 24) + ':00'", "labelAngle": 45, "labelAlign": "left", "labelBaseline": "middle", "labelPadding": 8, "titlePadding": 13, "labelOverlap": false, "labelFlush": false}},
       "x2": {"field": "e"},
       "y": {"datum": 0, "type": "quantitative", "scale": {"domain": [-2.1, 52.8], "nice": false, "zero": false},
             "axis": {"title": "Dist to ship(km)", "values": [0,10,20,30,40,50], "tickCount": 20, "labelExpr": "'' + datum.value", "titlePadding": 33, "labelOverlap": false}},
       "y2": {"value": 0},
       "fill": {"field": "trial", "type": "nominal", "scale": {"domain": ["I","T"], "range": ["#F7F5C4","#EBEBEB"]},
                "legend": {"title": "Trial type", "legendX": 840, "legendY": 11, "symbolType": "square", "symbolSize": 361, "symbolStrokeWidth": 0, "rowPadding": 2, "labelOffset": 11, "titlePadding": 10}}
      }},
     {"data": {"name": "ship"}, "mark": {"type": "line", "color": "#E8413A", "strokeWidth": 6.5, "strokeCap": "round", "strokeJoin": "round"},
      "encoding": {"x": {"field": "t", "type": "quantitative"}, "y": {"field": "km", "type": "quantitative"}, "detail": {"field": "seg", "type": "nominal"}}}
    ]
   }
  ]
 }
]
}
